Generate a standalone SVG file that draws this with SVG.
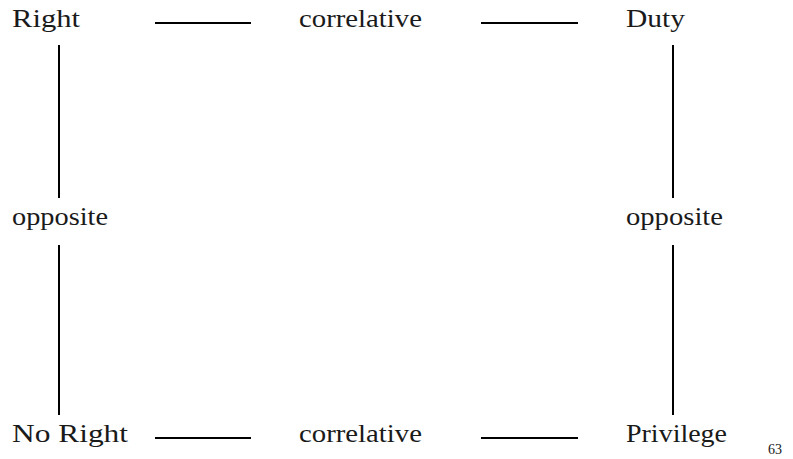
<svg xmlns="http://www.w3.org/2000/svg" width="793" height="459" viewBox="0 0 793 459">
<style>
text{font-family:"Liberation Serif","Times New Roman",serif;font-size:25px;fill:#1a1a1a}
.pg{font-size:15px}
line{stroke:#000;stroke-width:2}
</style>
<rect width="793" height="459" fill="#fff"/>
<g id="connectors">
<line x1="155" y1="23" x2="251" y2="23"/>
<line x1="481" y1="23" x2="578" y2="23"/>
<line x1="155" y1="438" x2="251" y2="438"/>
<line x1="481" y1="438" x2="578" y2="438"/>
<line x1="59" y1="45" x2="59" y2="198"/>
<line x1="59" y1="245" x2="59" y2="415"/>
<line x1="673" y1="45" x2="673" y2="198"/>
<line x1="673" y1="245" x2="673" y2="415"/>
</g>
<g id="right"><text x="12" y="27" textLength="68" lengthAdjust="spacingAndGlyphs">Right</text></g>
<g id="correlative-top"><text x="299" y="27" textLength="123" lengthAdjust="spacingAndGlyphs">correlative</text></g>
<g id="duty"><text x="626" y="27" textLength="59" lengthAdjust="spacingAndGlyphs">Duty</text></g>
<g id="opposite-left"><text x="12" y="225" textLength="96" lengthAdjust="spacingAndGlyphs">opposite</text></g>
<g id="opposite-right"><text x="626" y="225" textLength="97" lengthAdjust="spacingAndGlyphs">opposite</text></g>
<g id="no-right"><text x="12" y="442" textLength="116" lengthAdjust="spacingAndGlyphs">No Right</text></g>
<g id="correlative-bottom"><text x="299" y="442" textLength="123" lengthAdjust="spacingAndGlyphs">correlative</text></g>
<g id="privilege"><text x="626" y="442" textLength="101" lengthAdjust="spacingAndGlyphs">Privilege</text></g>
<g id="page"><text class="pg" x="768" y="454" textLength="14" lengthAdjust="spacingAndGlyphs">63</text></g>
</svg>
